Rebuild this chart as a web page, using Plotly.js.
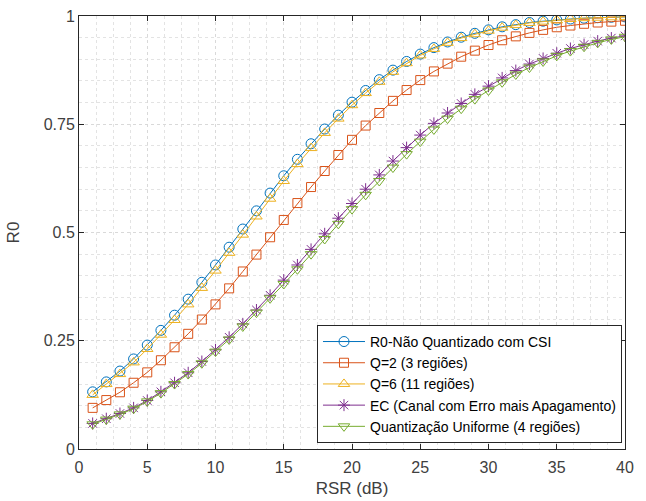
<!DOCTYPE html>
<html>
<head>
<meta charset="utf-8">
<script src="https://cdn.plot.ly/plotly-3.0.1.min.js"></script>
<style>html,body{margin:0;padding:0;background:#fff;}#chart{width:646px;height:501px;}</style>
</head>
<body>
<div id="chart"></div>
<script>
const rsr = [1,2,3,4,5,6,7,8,9,10,11,12,13,14,15,16,17,18,19,20,21,22,23,24,25,26,27,28,29,30,31,32,33,34,35,36,37,38,39,40];
const r0NaoQuant = [0.132,0.155,0.180,0.208,0.240,0.274,0.309,0.346,0.385,0.425,0.466,0.508,0.550,0.591,0.631,0.669,0.705,0.739,0.771,0.801,0.828,0.853,0.875,0.895,0.912,0.927,0.940,0.951,0.960,0.968,0.975,0.980,0.985,0.988,0.991,0.993,0.995,0.996,0.997,0.998];
const q2 = [0.095,0.113,0.131,0.153,0.177,0.205,0.235,0.266,0.299,0.334,0.371,0.410,0.449,0.489,0.529,0.568,0.605,0.642,0.679,0.714,0.747,0.776,0.804,0.829,0.852,0.872,0.890,0.906,0.920,0.933,0.944,0.953,0.961,0.968,0.974,0.978,0.982,0.985,0.987,0.989];
const q6 = [0.125,0.150,0.173,0.200,0.231,0.264,0.298,0.334,0.372,0.412,0.453,0.495,0.537,0.578,0.619,0.658,0.695,0.730,0.763,0.794,0.822,0.848,0.871,0.891,0.909,0.924,0.938,0.949,0.958,0.966,0.973,0.979,0.984,0.987,0.990,0.993,0.995,0.996,0.997,0.998];
const ec = [0.059,0.070,0.082,0.095,0.112,0.132,0.153,0.176,0.202,0.229,0.258,0.289,0.321,0.355,0.390,0.425,0.461,0.497,0.533,0.567,0.600,0.633,0.665,0.696,0.725,0.752,0.776,0.798,0.819,0.838,0.857,0.874,0.889,0.902,0.914,0.925,0.934,0.942,0.949,0.954];
const uniforme = [0.057,0.068,0.080,0.093,0.110,0.129,0.150,0.173,0.198,0.225,0.253,0.283,0.315,0.348,0.381,0.415,0.450,0.485,0.520,0.554,0.587,0.619,0.650,0.681,0.710,0.738,0.763,0.786,0.808,0.828,0.847,0.865,0.881,0.895,0.908,0.919,0.929,0.938,0.946,0.952];

const seriesNames = ['R0-Não Quantizado com CSI','Q=2 (3 regiões)','Q=6 (11 regiões)','EC (Canal com Erro mais Apagamento)','Quantização Uniforme (4 regiões)'];
const seriesData = [r0NaoQuant, q2, q6, ec, uniforme];
const colors = ['#0072BD','#D95319','#EDB120','#7E2F8E','#77AC30'];
const symbols = ['circle-open','square-open','triangle-up-open','asterisk-open','triangle-down-open'];
const sizes = [10,9,10,10,10];

const FONT = 'Liberation Sans, Arial, sans-serif';

const traces = seriesData.map((y,i)=>({
  x: rsr, y: y, type:'scatter', mode:'lines+markers', name: seriesNames[i],
  line:{color:colors[i], width:1},
  marker:{symbol:symbols[i], size:sizes[i], color:colors[i], line:{color:colors[i], width:1}}
}));

const axisCommon = {
  showline:true, linecolor:'#262626', linewidth:1, mirror:'ticks',
  ticks:'inside', ticklen:5, tickcolor:'#262626',
  showgrid:true, gridcolor:'#d9d9d9', griddash:'dot', gridwidth:1,
  zeroline:false,
  tickfont:{family:FONT, size:16, color:'#404040'},
  minor:{showgrid:true, gridcolor:'#e3e3e3', griddash:'dot', gridwidth:1, ticks:''}
};

const layout = {
  width:646, height:501,
  margin:{l:79, r:21, t:16, b:52},
  paper_bgcolor:'#fff', plot_bgcolor:'#fff',
  showlegend:true,
  xaxis: Object.assign({}, axisCommon, {
    range:[0,40], tickvals:[0,5,10,15,20,25,30,35,40], ticktext:['0','5','10','15','20','25','30','35','40'],
    minor:Object.assign({}, axisCommon.minor, {dtick:1.25}),
    ticklabelstandoff:4,
    title:{text:'RSR (dB)', font:{family:FONT, size:17, color:'#404040'}, standoff:6}
  }),
  yaxis: Object.assign({}, axisCommon, {
    range:[0,1], tickvals:[0,0.25,0.5,0.75,1], ticktext:['0','0.25','0.5','0.75','1'],
    minor:Object.assign({}, axisCommon.minor, {dtick:0.05}),
    title:{text:'R0', font:{family:FONT, size:17, color:'#404040'}, standoff:19}
  }),
  legend:{
    x:0.9945, xanchor:'right', y:0.014, yanchor:'bottom',
    bgcolor:'#fff', bordercolor:'#262626', borderwidth:1,
    font:{family:FONT, size:14, color:'#000'},
    tracegroupgap:0, itemwidth:42
  }
};

Plotly.newPlot('chart', traces, layout, {displayModeBar:false, staticPlot:true});
</script>
</body>
</html>
